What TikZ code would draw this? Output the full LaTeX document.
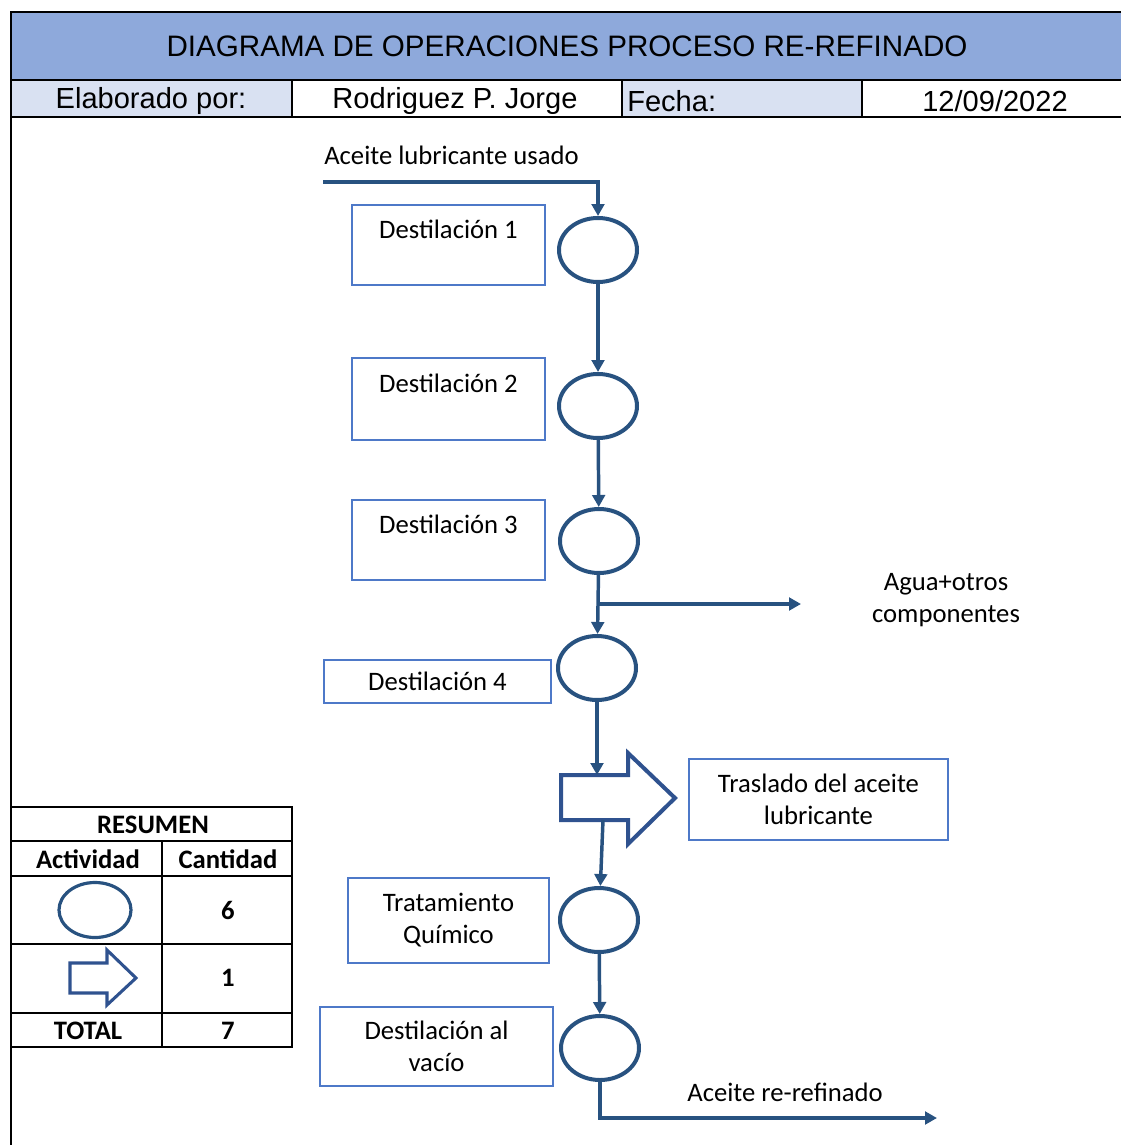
\documentclass[tikz,border=0pt]{standalone}
\usepackage{fontspec}
\setmainfont{Carlito}
\newfontfamily\arialf{Liberation Sans}
\usetikzlibrary{arrows.meta,shapes.geometric}
\definecolor{opline}{RGB}{40,82,128}
\definecolor{trline}{RGB}{47,82,143}
\definecolor{boxline}{RGB}{78,121,200}
\definecolor{titlefill}{RGB}{142,169,219}
\definecolor{cellfill}{RGB}{217,225,242}
\begin{document}
\begin{tikzpicture}[x=0.75pt,y=-0.75pt,
  op/.style={ellipse,draw=opline,line width=3pt,minimum width=0.75pt*78,minimum height=0.75pt*64,inner sep=0pt},
  flow/.style={draw=opline,line width=2.6pt,-{Triangle[length=9pt,width=9.5pt]}},
  stepbox/.style={draw=boxline,line width=1.1pt,align=center,inner sep=0pt,font=\fontsize{20}{24}\selectfont},
  lbl/.style={align=center,inner sep=0pt,font=\fontsize{20}{24}\selectfont},
  hdr/.style={inner sep=0pt,font=\arialf\fontsize{21.8}{26}\selectfont},
  tbl/.style={inner sep=0pt,font=\bfseries\fontsize{20}{24}\selectfont},
  grid/.style={draw=black,line width=1.3pt}]
\useasboundingbox (0,0) rectangle (1121,1145);

% header
\fill[titlefill] (11,12) rectangle (1121,80);
\fill[cellfill] (11,80) rectangle (292,117);
\fill[cellfill] (622,80) rectangle (862,117);
\draw[grid] (1121,12) -- (11,12) -- (11,1145);
\draw[grid] (11,80) -- (1121,80);
\draw[grid] (11,117) -- (1121,117);
\draw[grid] (292,80) -- (292,117);
\draw[grid] (622,80) -- (622,117);
\draw[grid] (862,80) -- (862,117);
\node[hdr,font=\arialf\fontsize{22.2}{26}\selectfont] (title) at (567,46) {DIAGRAMA DE OPERACIONES PROCESO RE-REFINADO};
\node[hdr] (elab) at (151,101) {Elaborado por:};
\node[hdr] (autor) at (455,101) {Rodriguez P. Jorge};
\node[hdr,anchor=west] (fecha) at (627,101) {Fecha:};
\node[hdr] (dia) at (995,101) {12/09/2022};

% operations
\node[op] (c1) at (598,250) {};
\node[op] (c2) at (598,406) {};
\node[op] (c3) at (599,541) {};
\node[op] (c4) at (597,668) {};
\node[op] (c5) at (599,920) {};
\node[op] (c6) at (600,1048) {};

% transport arrow
\draw[trline,line width=3pt,line join=miter]
  (561,775) -- (628,775) -- (628,753) -- (675,798) -- (628,844) -- (628,820) -- (561,820) -- cycle;
\coordinate (trtop) at (597,775);
\coordinate (trbot) at (603,820);

% step boxes
\node[stepbox,minimum width=0.75pt*193,minimum height=0.75pt*80] (d1) at (448.5,245) {Destilación 1\\ \mbox{}};
\node[stepbox,minimum width=0.75pt*193,minimum height=0.75pt*82] (d2) at (448.5,399) {Destilación 2\\ \mbox{}};
\node[stepbox,minimum width=0.75pt*193,minimum height=0.75pt*80] (d3) at (448.5,540) {Destilación 3\\ \mbox{}};
\node[stepbox,minimum width=0.75pt*227,minimum height=0.75pt*43] (d4) at (437.5,681.5) {Destilación 4};
\node[stepbox,minimum width=0.75pt*259,minimum height=0.75pt*81] (tras) at (818.5,799.5) {Traslado del aceite\\lubricante};
\node[stepbox,minimum width=0.75pt*201,minimum height=0.75pt*85] (trat) at (448.5,920.5) {Tratamiento\\Químico};
\node[stepbox,minimum width=0.75pt*233,minimum height=0.75pt*79] (vac) at (436.5,1046.5) {Destilación al\\vacío};

% flow labels
\node[lbl,anchor=west] (entrada) at (324,155) {Aceite lubricante usado};
\node[lbl] (agua) at (946,600) {Agua+otros\\componentes};
\node[lbl] (salida) at (785,1092) {Aceite re-refinado};

% connectors
\coordinate (in) at (323,182);
\coordinate (br) at (599,604);
\coordinate (brend) at (801,604);
\coordinate (outend) at (937,1118);
\draw[flow] (in) -| (c1);
\draw[flow] (c1) -- (c2);
\draw[flow] (c2) -- (c3);
\draw[flow] (c3) -- (c4);
\draw[flow] (br) -- (brend);
\draw[flow] (c4) -- (trtop);
\draw[flow] (trbot) -- (c5);
\draw[flow] (c5) -- (c6);
\draw[flow] (c6) |- (outend);

% summary table
\draw[grid] (11,807) -- (292,807) -- (292,1047) -- (11,1047);
\draw[grid] (11,841) -- (292,841);
\draw[grid] (11,876) -- (292,876);
\draw[grid] (11,944) -- (292,944);
\draw[grid] (11,1013) -- (292,1013);
\draw[grid] (162,841) -- (162,1047);
\node[tbl] (res) at (153,825) {RESUMEN};
\node[tbl] (act) at (88,859) {Actividad};
\node[tbl] (cant) at (228,859) {Cantidad};
\node[op,line width=2.4pt,minimum width=0.75pt*72,minimum height=0.75pt*55] (tc) at (95,910) {};
\draw[trline,line width=2.3pt,line join=miter]
  (70,963) -- (107,963) -- (107,950) -- (136,978) -- (107,1005) -- (107,993) -- (70,993) -- cycle;
\node[tbl] (n6) at (228,910) {6};
\node[tbl] (n1) at (228,978) {1};
\node[tbl] (tot) at (88,1031) {TOTAL};
\node[tbl] (n7) at (228,1031) {7};
\end{tikzpicture}
\end{document}
